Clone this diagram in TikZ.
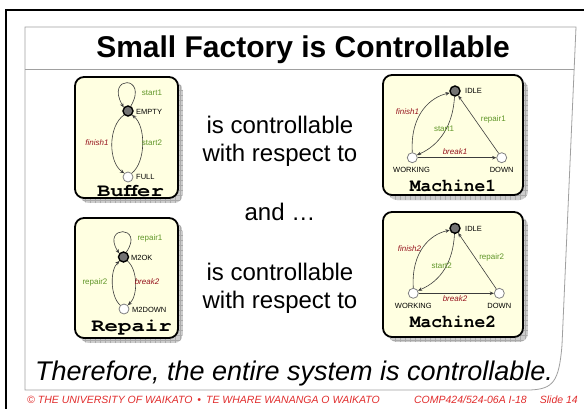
\documentclass[tikz,border=0pt]{standalone}
\usepackage{fontspec}
\setmainfont{Liberation Sans}
\newfontfamily\courierbold{TeX Gyre Cursor}[UprightFont=*-Bold]
\usetikzlibrary{arrows.meta}

\definecolor{boxfill}{RGB}{255,255,225}
\definecolor{evgreen}{RGB}{96,150,40}
\definecolor{evred}{RGB}{150,20,30}
\definecolor{footred}{RGB}{225,45,45}
\definecolor{framegray}{RGB}{160,160,160}
\definecolor{shadegray}{RGB}{205,205,205}
\definecolor{shadeline}{RGB}{170,170,170}
\definecolor{initfill}{RGB}{115,115,115}
\definecolor{edgecol}{RGB}{60,60,60}

% gridded drop shadow behind an automaton panel
\newcommand\panelshadow[4]{%
  \begin{scope}
    \clip[rounded corners=9pt] (#1+5,#2+5) rectangle (#3+5,#4+5);
    \fill[shadegray] (#1,#2) rectangle (#3+5,#4+5);
    \draw[shadeline, line width=0.4pt, step=5pt] (#1,#2) grid (#3+5,#4+5);
  \end{scope}}

\begin{document}
\begin{tikzpicture}[x=1pt,y=-1pt,
  panel/.style={draw=black, line width=1.8pt, fill=boxfill, rounded corners=9pt},
  state/.style={circle, draw=gray, fill=white, line width=0.8pt, minimum size=10pt, inner sep=0pt},
  initstate/.style={state, draw=black, fill=initfill, line width=1.4pt},
  arr/.style={draw=edgecol, line width=0.6pt, -{Stealth[length=4.2pt,width=3.6pt]}},
  ctl/.style={font=\fontsize{8}{9}\selectfont, text=evgreen, inner sep=0.5pt},
  unc/.style={font=\fontsize{8}{9}\selectfont\itshape, text=evred, inner sep=0.5pt},
  slbl/.style={font=\fontsize{7.5}{9}\selectfont, inner sep=0pt},
  autname/.style={font=\fontsize{18}{18}\selectfont\courierbold, inner sep=0pt},
  body/.style={font=\fontsize{24}{28}\selectfont, anchor=base, inner sep=0pt},
  foot/.style={font=\fontsize{10.5}{12}\selectfont\itshape, text=footred, inner sep=0pt}
]
\useasboundingbox (0,0) rectangle (584,408);
\fill[white] (0,0) rectangle (584,408);

% slide frame
\draw[line width=2.2pt] (6,410) -- (6,10) -- (586,10);
\draw[framegray, line width=0.8pt, fill=white]
  (25,27) -- (576,27) -- (562,345) .. controls (559,382) and (553,389) .. (530,390) -- (25,390) -- cycle;
\draw[framegray, line width=0.8pt] (25,69) -- (574.2,69);

\node[font=\fontsize{30}{32}\selectfont\bfseries, anchor=base, inner sep=0pt] (title) at (303,57)
  {Small Factory is Controllable};

% ---------- Buffer ----------
\panelshadow{75}{77}{178}{198}
\draw[panel] (75,77) rectangle (178,198);
\node[initstate] (b-empty) at (128,111) {};
\node[state] (b-full) at (128,177) {};
\node[slbl, anchor=west] (b-empty-l) at (136,112) {EMPTY};
\node[slbl, anchor=west] (b-full-l) at (136,177) {FULL};
\draw[arr] (b-empty.60) .. controls (149,75) and (105,75) .. (b-empty.140);
\draw[arr] (b-empty.225) .. controls (108,126) and (108,162) .. (b-full.135);
\draw[arr] (b-full.45) .. controls (146,162) and (146,126) .. (b-empty.-45);
\node[ctl] (b-start1) at (152,93) {start1};
\node[unc] (b-finish1) at (97,143) {finish1};
\node[ctl] (b-start2) at (152,143) {start2};
\node[autname] (b-name) at (130.5,191) {\scalebox{1.24}[1]{Buffer}};

% ---------- Repair ----------
\panelshadow{75}{218}{178}{338}
\draw[panel] (75,218) rectangle (178,338);
\node[initstate] (r-ok) at (123.5,257) {};
\node[state] (r-down) at (124,309) {};
\node[slbl, anchor=west] (r-ok-l) at (131,257.5) {M2OK};
\node[slbl, anchor=west] (r-down-l) at (132,309.5) {M2DOWN};
\draw[arr] (r-ok.60) .. controls (145,225) and (101,225) .. (r-ok.140);
\draw[arr] (r-down.135) .. controls (110,296) and (110,270) .. (r-ok.225);
\draw[arr] (r-ok.-45) .. controls (138,270) and (138,296) .. (r-down.45);
\node[ctl] (r-repair1) at (150,238) {repair1};
\node[ctl] (r-repair2) at (95,282) {repair2};
\node[unc] (r-break2) at (147,282) {break2};
\node[autname] (r-name) at (131.5,328) {\scalebox{1.24}[1]{Repair}};

% ---------- Machine1 ----------
\panelshadow{383}{75}{523}{195}
\draw[panel] (383,75) rectangle (523,195);
\node[initstate] (m1-idle) at (455,91) {};
\node[state] (m1-work) at (412.3,157.7) {};
\node[state] (m1-down) at (501.7,157.7) {};
\node[slbl, anchor=west] (m1-idle-l) at (465,91) {IDLE};
\node[slbl] (m1-work-l) at (411.5,170) {WORKING};
\node[slbl] (m1-down-l) at (501.7,170) {DOWN};
\draw[arr] (m1-work.90) .. controls (410,114) and (431,97) .. (m1-idle.200);
\draw[arr] (m1-idle.265) .. controls (453,125) and (440,145) .. (m1-work.30);
\draw[arr] (m1-down) -- (m1-idle);
\draw[arr] (m1-work) -- (m1-down);
\node[unc] (m1-finish1) at (407.5,111.7) {finish1};
\node[ctl] (m1-start1) at (444,128.3) {start1};
\node[ctl] (m1-repair1) at (493.3,119.3) {repair1};
\node[unc] (m1-break1) at (455,151.3) {break1};
\node[autname] (m1-name) at (453,186) {Machine1};

% ---------- Machine2 ----------
\panelshadow{383}{212}{523}{337}
\draw[panel] (383,212) rectangle (523,337);
\node[initstate] (m2-idle) at (455,228.3) {};
\node[state] (m2-work) at (413.3,293.3) {};
\node[state] (m2-down) at (499.3,293.3) {};
\node[slbl, anchor=west] (m2-idle-l) at (465,228.5) {IDLE};
\node[slbl] (m2-work-l) at (413.3,305.7) {WORKING};
\node[slbl] (m2-down-l) at (499.3,305.7) {DOWN};
\draw[arr] (m2-work.90) .. controls (411,251) and (431,234) .. (m2-idle.200);
\draw[arr] (m2-idle.265) .. controls (453,262) and (441,281) .. (m2-work.30);
\draw[arr] (m2-down) -- (m2-idle);
\draw[arr] (m2-work) -- (m2-down);
\node[unc] (m2-finish2) at (409.5,249) {finish2};
\node[ctl] (m2-start2) at (441.7,266) {start2};
\node[ctl] (m2-repair2) at (491.7,257.3) {repair2};
\node[unc] (m2-break2) at (455,299) {break2};
\node[autname] (m2-name) at (453,322) {Machine2};

% ---------- body text ----------
\node[body] (t1a) at (280,133) {is controllable};
\node[body] (t1b) at (280,161) {with respect to};
\node[body] (t-and) at (280,220) {and …};
\node[body] (t2a) at (280,280) {is controllable};
\node[body] (t2b) at (280,308) {with respect to};

\node[font=\fontsize{27}{30}\selectfont\itshape, anchor=base, inner sep=0pt] (concl) at (294,380)
  {Therefore, the entire system is controllable.};

% ---------- footer ----------
\node[foot, anchor=base west] (foot-l) at (27,403)
  {© THE UNIVERSITY OF WAIKATO\hspace{5pt}•\hspace{5pt}TE WHARE WANANGA O WAIKATO};
\node[foot, anchor=base east] (foot-c) at (527,403) {COMP424/524-06A I-18};
\node[foot, anchor=base east] (foot-r) at (578,403) {Slide 14};
\end{tikzpicture}
\end{document}
